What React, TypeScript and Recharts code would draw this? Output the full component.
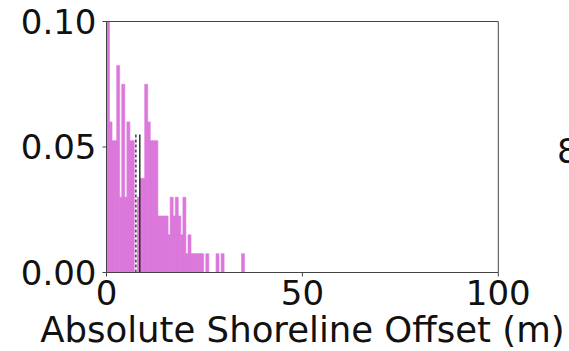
import { BarChart, Bar, XAxis, YAxis, ReferenceLine, Label } from 'recharts';

// histogram of absolute shoreline offsets, density per bin
const BIN_WIDTH = 0.65; // m
const densities = [
  0.13, 0.06, 0.0525, 0.0525, 0.0825, 0.03, 0.075, 0.03, 0.06, 0.0525,
  0.0525, 0.03, 0.03, 0.0375, 0.0375, 0.075, 0.06, 0.0525, 0.0525, 0.0525,
  0.0225, 0.0225, 0.0225, 0.0225, 0.015, 0.03, 0.0225, 0.03, 0.0225, 0.015,
  0.03, 0.0075, 0.015, 0.0075, 0.0075, 0.0075, 0.0075, 0.0075, 0, 0.0075,
  0, 0, 0, 0.0075, 0, 0.0075, 0, 0, 0, 0,
  0, 0, 0, 0.0075,
];
const xTicks = [0, 50, 100];
const yTicks = [0, 0.05, 0.1];
const medianOffset = 7.5; // dashed
const meanOffset = 8.5; // solid
const markerTop = 0.055;

const data = densities.map((d, i) => ({ offset: (i + 0.5) * BIN_WIDTH, density: d }));

const FONT = 'DejaVu Sans';
const AXIS = '#444';
const PINK = '#DC78DC';

export default function App() {
  return (
    <div style={{ position: 'absolute', left: 0, top: 0, width: 569, height: 351, background: '#fff', overflow: 'hidden' }}>
      <BarChart
        width={569}
        height={351}
        data={data}
        barCategoryGap={0}
        barGap={0}
        margin={{ top: 21.5, right: 70.7, left: 0, bottom: 0 }}
      >
        <XAxis
          dataKey="offset"
          type="number"
          domain={[0, 100]}
          ticks={xTicks}
          allowDataOverflow
          height={78.5}
          tickSize={4}
          tickMargin={4}
          stroke={AXIS}
          tick={{ fontSize: 34, fontFamily: FONT, fill: '#111' }}
        >
          <Label
            value="Absolute Shoreline Offset (m)"
            position="insideBottom"
            offset={9}
            style={{ fontSize: 35.5, fontFamily: FONT, fill: '#111' }}
          />
        </XAxis>
        <YAxis
          type="number"
          domain={[0, 0.1]}
          ticks={yTicks}
          allowDataOverflow
          width={106.5}
          tickSize={4}
          tickMargin={6}
          stroke={AXIS}
          tickFormatter={(v) => v.toFixed(2)}
          tick={{ fontSize: 34, fontFamily: FONT, fill: '#111' }}
        />
        <Bar dataKey="density" fill={PINK} stroke={PINK} strokeWidth={0.6} isAnimationActive={false} />
        <ReferenceLine
          segment={[{ x: medianOffset, y: 0 }, { x: medianOffset, y: markerTop }]}
          stroke="#ffffff"
          strokeWidth={2.5}
        />
        <ReferenceLine
          segment={[{ x: medianOffset, y: 0 }, { x: medianOffset, y: markerTop }]}
          stroke="#222"
          strokeWidth={1.3}
          strokeDasharray="3 2"
        />
        <ReferenceLine
          segment={[{ x: meanOffset, y: 0 }, { x: meanOffset, y: markerTop }]}
          stroke="#222"
          strokeWidth={1.4}
        />
        <ReferenceLine y={0.1} stroke={AXIS} strokeWidth={1} />
        <ReferenceLine x={100} stroke={AXIS} strokeWidth={1} />
      </BarChart>
      <svg width={569} height={351} style={{ position: 'absolute', left: 0, top: 0, pointerEvents: 'none' }}>
        <text x={557} y={163} fontSize={34} fontFamily={FONT} fill="#111">8</text>
      </svg>
    </div>
  );
}
